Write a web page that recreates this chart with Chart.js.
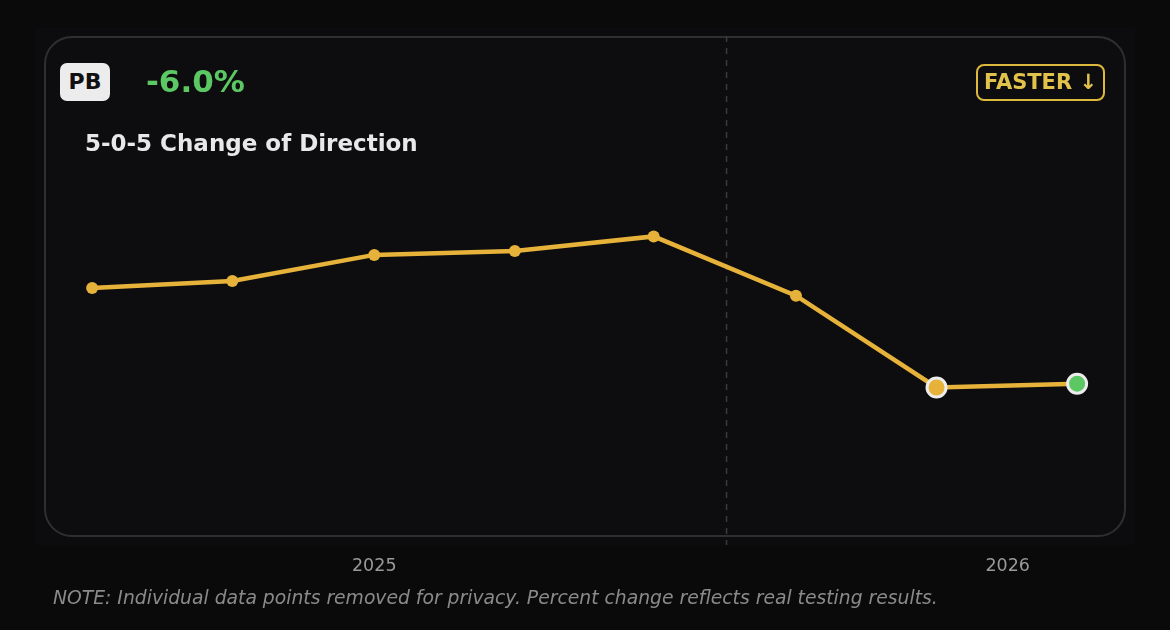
<!DOCTYPE html>
<html>
<head>
<meta charset="utf-8">
<script src="https://cdn.jsdelivr.net/npm/chart.js@4.4.1/dist/chart.umd.min.js"></script>
<style>
  html, body { margin: 0; padding: 0; background: #0a0a0b; }
  body { width: 1170px; height: 630px; position: relative; overflow: hidden; font-family: "DejaVu Sans", sans-serif; }
  #panel { position: absolute; left: 35px; top: 28px; width: 1100px; height: 517px; background: #0c0c0e; }
  #card { position: absolute; left: 44px; top: 36px; width: 1078px; height: 497px; border: 2px solid #2f2f32; border-radius: 28px; background: #0d0d0f; }
  #wrap { position: absolute; left: 0; top: 0; width: 1170px; height: 630px; }
  .badge { position: absolute; box-sizing: border-box; text-align: center; font-weight: bold; }
  #pb { left: 60px; top: 63px; width: 50px; height: 38px; line-height: 38px; background: #ececec; color: #111; border-radius: 7px; font-size: 22px; }
  #pct { position: absolute; left: 146px; top: 61px; line-height: 40px; font-size: 31px; font-weight: bold; color: #5cc864; }
  #title { position: absolute; left: 85px; top: 129px; line-height: 28px; font-size: 23px; font-weight: bold; color: #e8e8ea; }
  #dir { left: 976px; top: 64px; width: 129px; height: 37px; line-height: 33px; border: 2px solid #dcb93c; border-radius: 8px; color: #e3c24c; font-size: 21px; }
  #note { position: absolute; left: 53px; top: 586px; line-height: 24px; font-size: 18.75px; font-style: italic; color: #8a8a8a; }
</style>
</head>
<body>
<div id="panel"></div>
<div id="card"></div>
<div id="wrap"><canvas id="chart-cod"></canvas></div>
<div id="pb" class="badge">PB</div>
<div id="pct"></div>
<div id="title"></div>
<div id="dir" class="badge">FASTER ↓</div>
<div id="note">NOTE: Individual data points removed for privacy. Percent change reflects real testing results.</div>
<script>
// datos del test
var testName = "5-0-5 Change of Direction";
var percentChange = "-6.0%";
var testDates = ["2024-07-22", "2024-10-11", "2025-01-01", "2025-03-23", "2025-06-11", "2025-09-01", "2025-11-21", "2026-02-10"];
var testTimes = [2.500, 2.511, 2.552, 2.558, 2.581, 2.488, 2.344, 2.350];
var tickYears = [2025, 2026];
var markerDate = "2025-07-23";
var pbIndex = 6;

function aAnio(fecha) {
    var d = new Date(fecha + "T00:00:00Z");
    var y = d.getUTCFullYear();
    var ini = Date.UTC(y, 0, 1);
    var fin = Date.UTC(y + 1, 0, 1);
    return y + (d.getTime() - ini) / (fin - ini);
}

document.getElementById("pct").textContent = percentChange;
document.getElementById("title").textContent = testName;

var puntos = [];
for (var i = 0; i < testDates.length; i++) {
    puntos.push({ x: aAnio(testDates[i]), y: testTimes[i] });
}
var ultimo = puntos.length - 1;

// linea discontinua vertical
var lineaMarca = {
    id: 'lineaMarca',
    beforeDatasetsDraw: function(chart) {
        var ctx = chart.ctx;
        var x = chart.scales.x.getPixelForValue(aAnio(markerDate));
        ctx.save();
        ctx.strokeStyle = "#3a3a3e";
        ctx.lineWidth = 1.5;
        ctx.setLineDash([6, 6]);
        ctx.beginPath();
        ctx.moveTo(x, chart.chartArea.top + 8);
        ctx.lineTo(x, chart.chartArea.bottom + 2);
        ctx.stroke();
        ctx.restore();
    }
};

new Chart(document.getElementById("chart-cod"), {
    type: 'line',
    data: {
        datasets: [{
            label: testName,
            data: puntos,
            borderColor: "#e6b23a",
            borderWidth: 4.5,
            tension: 0,
            pointBackgroundColor: function(c) { return c.dataIndex === ultimo ? "#5cc864" : "#e6b23a"; },
            pointBorderColor: function(c) { return (c.dataIndex === ultimo || c.dataIndex === pbIndex) ? "#ececec" : "#e6b23a"; },
            pointBorderWidth: function(c) { return (c.dataIndex === ultimo || c.dataIndex === pbIndex) ? 3 : 0; },
            pointRadius: function(c) { return (c.dataIndex === ultimo || c.dataIndex === pbIndex) ? 9.5 : 6; },
            pointHoverRadius: 9
        }]
    },
    options: {
        responsive: true,
        maintainAspectRatio: false,
        animation: false,
        layout: { padding: { left: 36, right: 35, top: 28, bottom: 40 } },
        plugins: { legend: { display: false }, tooltip: { enabled: false } },
        scales: {
            x: {
                type: 'linear',
                min: 2024.466,
                max: 2026.201,
                grid: { display: false, drawTicks: false, tickLength: 0 },
                border: { display: false },
                afterBuildTicks: function(axis) {
                    axis.ticks = tickYears.map(function(v) { return { value: v }; });
                },
                ticks: {
                    padding: 13,
                    color: "#9a9a9a",
                    font: { family: "DejaVu Sans", size: 17.5 },
                    callback: function(v) { return String(v); }
                }
            },
            y: {
                display: false,
                min: 2.100,
                max: 2.908
            }
        }
    },
    plugins: [lineaMarca]
});
</script>
</body>
</html>
